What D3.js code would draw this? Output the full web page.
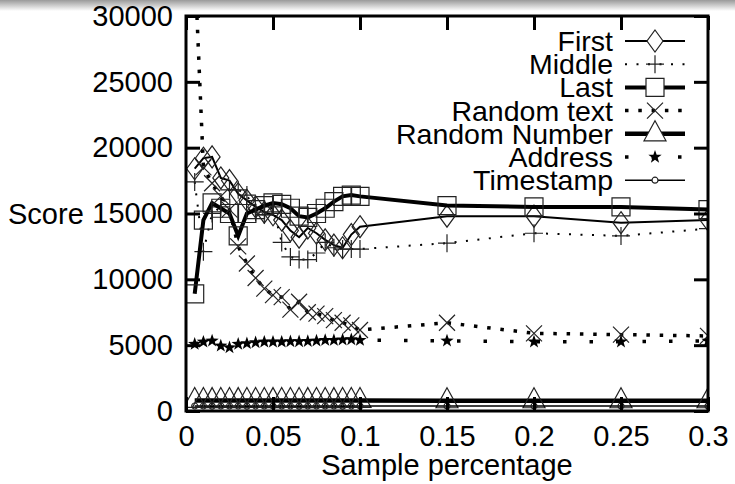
<!DOCTYPE html>
<html>
<head>
<meta charset="utf-8">
<script src="https://cdn.jsdelivr.net/npm/d3@7/dist/d3.min.js"></script>
<style>
  body { margin: 0; background: #fff; }
  svg { display: block; }
  text { font-family: "Liberation Sans", Arial, sans-serif; fill: #000; }
</style>
</head>
<body>
<div id="chart"></div>
<script>
// x values (sample percentage)
const samples = [0.005, 0.01, 0.015, 0.02, 0.025, 0.03, 0.035, 0.04, 0.045, 0.05,
                 0.055, 0.06, 0.065, 0.07, 0.075, 0.08, 0.085, 0.09, 0.095, 0.1,
                 0.15, 0.2, 0.25, 0.3];

const first = [18400, 19200, 19300, 17700, 17500, 16500, 16000, 15500, 15100, 14900,
               14500, 13700, 13200, 13900, 13500, 13000, 12600, 12400, 13400, 14000,
               14800, 14800, 14300, 14500];
const middle = [17400, 12100, 15000, 15500, 16800, 16800, 16400, 15100, 14900, 15500,
                12800, 11700, 11500, 11500, 12000, 12800, 12400, 12300, 12300, 12300,
                12750, 13500, 13300, 13850];
const last = [8900, 14500, 15800, 15400, 15000, 13300, 15000, 15300, 15600, 15800,
              15700, 15400, 14800, 14700, 15000, 15400, 15900, 16300, 16400, 16300,
              15600, 15500, 15500, 15300];
const randomText = [34000, 18500, 17300, 16300, 15300, 12500, 11200, 10100, 9300, 8800,
                    8650, 7700, 8300, 7500, 7400, 7200, 6900, 6700, 6500, 6150,
                    6700, 5900, 5800, 5700];
const randomNumber = [800, 800, 790, 800, 800, 790, 800, 800, 800, 790,
                      800, 800, 800, 790, 800, 800, 790, 800, 800, 800,
                      780, 780, 780, 780];
const address = [5080, 5250, 5330, 4950, 4820, 5080, 5130, 5200, 5250, 5250,
                 5250, 5280, 5280, 5300, 5330, 5380, 5380, 5410, 5430, 5380,
                 5330, 5260, 5260, 5330];
const timestamp = [380, 380, 370, 380, 380, 380, 370, 380, 380, 380,
                   380, 380, 370, 380, 380, 380, 380, 370, 380, 380,
                   380, 380, 380, 380];

const xTicks = [0, 0.05, 0.1, 0.15, 0.2, 0.25, 0.3];
const xTickLabels = ["0", "0.05", "0.1", "0.15", "0.2", "0.25", "0.3"];
const yTicks = [0, 5000, 10000, 15000, 20000, 25000, 30000];

const width = 735, height = 484;
const plotLeft = 186, plotRight = 708, plotTop = 16, plotBottom = 411;
const fontSize = "29px";

const svg = d3.select("#chart").append("svg")
    .attr("width", width)
    .attr("height", height);

// grey shadow band at the top
const defs = svg.append("defs");
const grad = defs.append("linearGradient").attr("id", "shade")
    .attr("x1", 0).attr("y1", 0).attr("x2", 0).attr("y2", 1);
grad.append("stop").attr("offset", "0%").attr("stop-color", "#9a9a9a");
grad.append("stop").attr("offset", "100%").attr("stop-color", "#ffffff");
svg.append("rect").attr("x", 0).attr("y", 0).attr("width", width).attr("height", 11)
    .attr("fill", "url(#shade)");

defs.append("clipPath").attr("id", "plotclip")
    .append("rect").attr("x", plotLeft).attr("y", plotTop)
    .attr("width", plotRight - plotLeft).attr("height", plotBottom - plotTop);

const x = d3.scaleLinear().domain([0, 0.3]).range([plotLeft, plotRight]);
const y = d3.scaleLinear().domain([0, 30000]).range([plotBottom, plotTop]);

// marker shapes
const shapes = {
    diamond: "M0,-11L8,0L0,11L-8,0Z",
    plus: "M-9,0H9M0,-9V9",
    square: "M-9,-9H9V9H-9Z",
    cross: "M-8,-8L8,8M8,-8L-8,8",
    triangle: "M0,-13L11,7L-11,7Z",
    star: (() => {
        let p = [];
        for (let i = 0; i < 10; i++) {
            const r = i % 2 === 0 ? 7 : 2.8;
            const a = -Math.PI / 2 + i * Math.PI / 5;
            p.push([r * Math.cos(a), r * Math.sin(a)]);
        }
        return "M" + p.map(d => d[0].toFixed(2) + "," + d[1].toFixed(2)).join("L") + "Z";
    })(),
    circle: "M3,0A3,3 0 1,1 -3,0A3,3 0 1,1 3,0Z"
};

const series = [
    { name: "First", values: first, width: 2, dash: null, shape: "diamond", fill: "none" },
    { name: "Middle", values: middle, width: 2, dash: "2 9.5", shape: "plus", fill: "none" },
    { name: "Last", values: last, width: 4, dash: null, shape: "square", fill: "none" },
    { name: "Random text", values: randomText, width: 3.5, dash: "3.5 9.8", shape: "cross", fill: "none" },
    { name: "Random Number", values: randomNumber, width: 4.5, dash: null, shape: "triangle", fill: "none" },
    { name: "Address", values: address, width: 3.5, dash: "3.5 23", shape: "star", fill: "#000" },
    { name: "Timestamp", values: timestamp, width: 1.6, dash: null, shape: "circle", fill: "none" }
];

const line = d3.line().x(d => x(d.x)).y(d => y(d.y));

const plot = svg.append("g").attr("clip-path", "url(#plotclip)");

series.forEach(s => {
    const pts = samples.map((sx, i) => ({ x: sx, y: s.values[i] }));
    plot.append("path")
        .datum(pts)
        .attr("d", line)
        .attr("fill", "none")
        .attr("stroke", "#000")
        .attr("stroke-width", s.width)
        .attr("stroke-dasharray", s.dash);
    plot.selectAll(null)
        .data(pts.filter(d => d.y <= 30000))
        .enter().append("path")
        .attr("transform", d => `translate(${x(d.x)},${y(d.y)})`)
        .attr("d", shapes[s.shape])
        .attr("fill", s.fill)
        .attr("stroke", s.shape === "star" ? "none" : "#222")
        .attr("stroke-width", 1.2);
});

// axes with inward ticks on all four sides
svg.append("g")
    .attr("transform", `translate(0,${plotBottom})`)
    .call(d3.axisBottom(x).tickValues(xTicks).tickFormat((d, i) => xTickLabels[i])
        .tickSize(-14).tickPadding(14));
svg.append("g")
    .attr("transform", `translate(${plotLeft},0)`)
    .call(d3.axisLeft(y).tickValues(yTicks).tickFormat(d3.format("d"))
        .tickSize(-14).tickPadding(13));
svg.append("g").attr("transform", `translate(0,${plotTop})`)
    .call(d3.axisTop(x).tickValues(xTicks).tickFormat("").tickSize(-14));
svg.append("g").attr("transform", `translate(${plotRight},0)`)
    .call(d3.axisRight(y).tickValues(yTicks).tickFormat("").tickSize(-14));

svg.selectAll(".domain").remove();
svg.selectAll(".tick line").attr("stroke", "#000").attr("stroke-width", 3);
svg.selectAll(".tick text")
    .style("font-family", "'Liberation Sans', Arial, sans-serif")
    .style("font-size", fontSize)
    .attr("fill", "#000");

// frame
svg.append("rect")
    .attr("x", plotLeft).attr("y", plotTop)
    .attr("width", plotRight - plotLeft).attr("height", plotBottom - plotTop)
    .attr("fill", "none").attr("stroke", "#000").attr("stroke-width", 3);

// axis titles
svg.append("text").attr("x", 8).attr("y", y(15000)).attr("dy", "0.35em")
    .style("font-size", fontSize).text("Score");
svg.append("text").attr("x", (plotLeft + plotRight) / 2).attr("y", 475)
    .attr("text-anchor", "middle").style("font-size", fontSize).text("Sample percentage");

// legend
const legend = svg.append("g");
series.forEach((s, i) => {
    const ly = 41 + i * 23.2;
    legend.append("text").attr("x", 613).attr("y", ly).attr("dy", "0.35em")
        .attr("text-anchor", "end").style("font-size", "28.5px").text(s.name);
    legend.append("line").attr("x1", 625).attr("x2", 685).attr("y1", ly).attr("y2", ly)
        .attr("stroke", "#000").attr("stroke-width", s.width)
        .attr("stroke-dasharray", s.dash);
    legend.append("path").attr("transform", `translate(655,${ly})`)
        .attr("d", shapes[s.shape])
        .attr("fill", s.fill === "none" ? "#fff" : s.fill)
        .attr("stroke", s.shape === "star" ? "none" : "#222")
        .attr("stroke-width", 1.2);
});
</script>
</body>
</html>
